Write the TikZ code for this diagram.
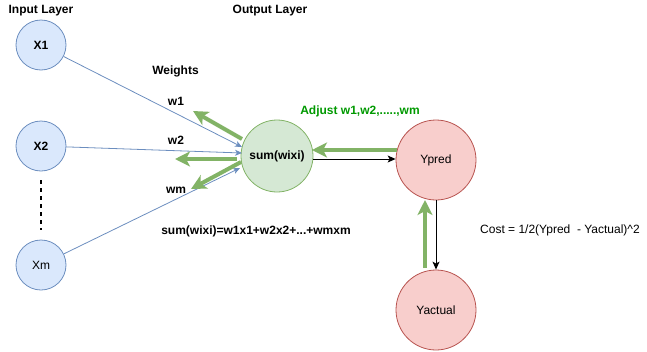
\documentclass[tikz,border=0pt]{standalone}
\usepackage{fontspec}
\setmainfont{Liberation Sans}
\usetikzlibrary{arrows.meta}
\definecolor{inFill}{HTML}{DAE8FC}
\definecolor{inLine}{HTML}{6C8EBF}
\definecolor{sumFill}{HTML}{D5E8D4}
\definecolor{sumLine}{HTML}{82B366}
\definecolor{outFill}{HTML}{F8CECC}
\definecolor{outLine}{HTML}{B85450}
\definecolor{adjText}{HTML}{009900}
\tikzset{
  neuron/.style={circle, draw, line width=0.8pt, inner sep=0pt, font=\fontsize{12}{14}\selectfont},
  inneuron/.style={neuron, fill=inFill, draw=inLine, minimum size=50pt},
  sumneuron/.style={neuron, fill=sumFill, draw=sumLine, minimum size=72pt},
  outneuron/.style={neuron, fill=outFill, draw=outLine, minimum size=80pt},
  lbl/.style={inner sep=0pt, font=\fontsize{12}{14}\selectfont},
  blbl/.style={lbl, font=\fontsize{12}{14}\selectfont\bfseries},
  wire/.style={draw=inLine, line width=0.8pt, -{Stealth[length=7pt,width=6pt,inset=2pt]}},
  flow/.style={draw=black, line width=0.9pt, -{Stealth[length=8pt,width=7pt,inset=2pt]}},
  feedback/.style={draw=sumLine, line width=4pt, -{Stealth[length=15pt,width=15pt,inset=4pt]}},
}
\begin{document}
\begin{tikzpicture}[x=1pt, y=-1pt]
\useasboundingbox (0,0) rectangle (647,351);

% neurons
\node[inneuron, font=\fontsize{12}{14}\selectfont\bfseries] (x1) at (41,45) {X1};
\node[inneuron, font=\fontsize{12}{14}\selectfont\bfseries] (x2) at (41,146) {X2};
\node[inneuron] (xm) at (41,265) {Xm};
\node[sumneuron, font=\fontsize{12}{14}\selectfont\bfseries] (sum) at (277,156) {sum(wixi)};
\node[outneuron] (ypred) at (436,160) {Ypred};
\node[outneuron] (yact) at (436,310) {Yactual};

% headings and labels
\node[blbl] (inlayer) at (41,11) {Input Layer};
\node[blbl] (outlayer) at (270,11) {Output Layer};
\node[blbl] (weights) at (175.5,71) {Weights};
\node[blbl] (w1) at (176,101) {w1};
\node[blbl] (w2) at (176,140) {w2};
\node[blbl] (wm) at (176,190) {wm};
\node[blbl] (formula) at (256,231) {sum(wixi)=w1x1+w2x2+...+wmxm};
\node[blbl, text=adjText] (adjust) at (360,111) {Adjust w1,w2,.....,wm};
\node[lbl] (cost) at (560,230) {Cost = 1/2(Ypred\ \ - Yactual)\textasciicircum 2};

% weighted inputs
\coordinate (t1) at (242,147);
\coordinate (t2) at (242,153);
\coordinate (tm) at (240,168);
\draw[wire] (x1) -- (t1);
\draw[wire] (x2) -- (t2);
\draw[wire] (xm) -- (tm);

% omitted inputs
\coordinate (d1) at (41,180);
\coordinate (d2) at (41,230);
\draw[line width=1.6pt, dash pattern=on 4pt off 4pt] (d1) -- (d2);

% forward pass
\draw[flow] (sum.east |- 0,159) -- (ypred.west |- 0,159);
\draw[flow] (ypred) -- (yact);

% weight updates
\coordinate (b0) at (425,268);
\coordinate (b1) at (425,200);
\draw[feedback] (b0) -- (b1);
\coordinate (a0) at (397,150);
\coordinate (a1) at (312,150);
\draw[feedback] (a0) -- (a1);
\coordinate (g1s) at (242,139);
\coordinate (g1e) at (193,111);
\draw[feedback] (g1s) -- (g1e);
\coordinate (g2s) at (237,159);
\coordinate (g2e) at (175,159);
\draw[feedback] (g2s) -- (g2e);
\coordinate (gms) at (241,162);
\coordinate (gme) at (191,189);
\draw[feedback] (gms) -- (gme);
\end{tikzpicture}
\end{document}
